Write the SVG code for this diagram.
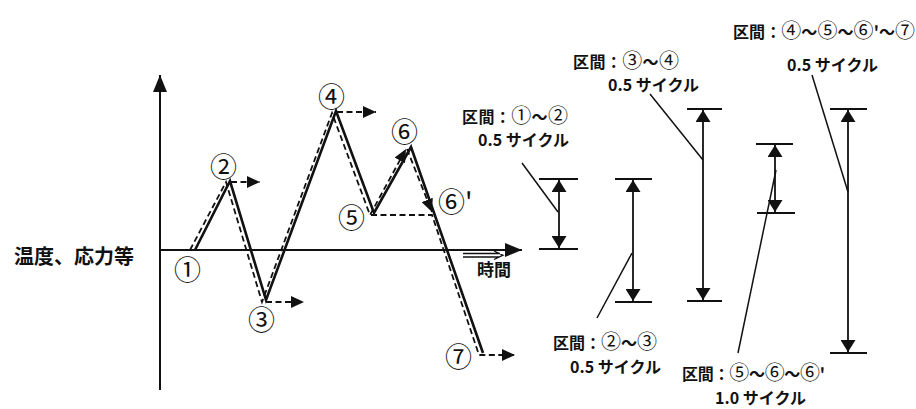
<svg xmlns="http://www.w3.org/2000/svg" width="916" height="409" viewBox="0 0 916 409">
<style>
  text { font-family: "Noto Sans CJK JP", "Noto Sans", sans-serif; fill: #111; font-weight: bold; }
  .lbl { font-size: 16px; }
  .c { font-size: 20px; font-weight: normal; }
  .num { font-size: 27px; font-weight: normal; }
  .axis { stroke: #111; stroke-width: 2; fill: none; }
  .wave { stroke: #111; stroke-width: 2.6; fill: none; stroke-linejoin: miter; }
  .dash { stroke: #111; stroke-width: 1.8; fill: none; stroke-dasharray: 6 3.5; }
  .bar { stroke: #111; stroke-width: 1.8; fill: none; }
  .tick { stroke: #111; stroke-width: 2; }
  .lead { stroke: #111; stroke-width: 1.5; fill: none; }
</style>
<defs>
  <marker id="ah" viewBox="0 0 12 15" refX="12" refY="7.5" markerWidth="12" markerHeight="15" markerUnits="userSpaceOnUse" orient="auto-start-reverse">
    <path d="M0,0 L12,7.5 L0,15 z" fill="#111"/>
  </marker>
  <marker id="da" viewBox="0 0 13 12" refX="13" refY="6" markerWidth="13" markerHeight="12" markerUnits="userSpaceOnUse" orient="auto">
    <path d="M0,0 L13,6 L0,12 z" fill="#111"/>
  </marker>
  <marker id="ax" viewBox="0 0 17 14" refX="17" refY="7" markerWidth="17" markerHeight="14" markerUnits="userSpaceOnUse" orient="auto">
    <path d="M0,0 L17,7 L0,14 z" fill="#111"/>
  </marker>
</defs>
<rect width="916" height="409" fill="#fff"/>

<g id="axes">
  <line class="axis" x1="160" y1="390" x2="160" y2="75" marker-end="url(#ax)"/>
  <line class="axis" x1="160" y1="250" x2="522" y2="250" marker-end="url(#ax)"/>
  <path d="M463,253.5 H500 M463,257 H500 M494,251 L503,255.2 L494,259.5" stroke="#111" stroke-width="1.3" fill="none"/>
  <text x="477" y="276" style="font-size:17px">時間</text>
  <text x="14" y="264" style="font-size:20px">温度、応力等</text>
</g>

<g id="connectors">
  <polyline class="wave" points="195,250 230,181 266,300 336,111 374,213 411,147 483,353"/>
  <polyline class="dash" points="190,250 226,182 262,302 332,113 370,215 406,149" marker-end="url(#da)"/>
  <polyline class="dash" points="407,149 432,212" marker-end="url(#da)"/>
  <polyline class="dash" points="371,215 432,215 479,355 515,355" marker-end="url(#da)"/>
  <line class="dash" x1="231" y1="182" x2="260" y2="182" marker-end="url(#da)"/>
  <line class="dash" x1="266" y1="302" x2="304" y2="302" marker-end="url(#da)"/>
  <line class="dash" x1="337" y1="112" x2="376" y2="112" marker-end="url(#da)"/>
</g>

<g id="points">
  <text class="num" x="174" y="280">①</text>
  <text class="num" x="210" y="177">②</text>
  <text class="num" x="248" y="330">③</text>
  <text class="num" x="318" y="107">④</text>
  <text class="num" x="338" y="228">⑤</text>
  <text class="num" x="391" y="142">⑥</text>
  <text class="num" x="438" y="212">⑥'</text>
  <text class="num" x="445" y="367">⑦</text>
</g>

<g id="range1">
  <line class="tick" x1="539" y1="179" x2="578" y2="179"/>
  <line class="tick" x1="539" y1="249" x2="578" y2="249"/>
  <line class="bar" x1="559" y1="180" x2="559" y2="248" marker-start="url(#ah)" marker-end="url(#ah)"/>
  <line class="lead" x1="522" y1="163" x2="558" y2="212"/>
  <text class="lbl" x="462" y="123" textLength="106" lengthAdjust="spacing">区間：<tspan class="c">①</tspan>～<tspan class="c">②</tspan></text>
  <text class="lbl" x="478" y="146">0.5 サイクル</text>
</g>

<g id="range2">
  <line class="tick" x1="615" y1="179" x2="652" y2="179"/>
  <line class="tick" x1="615" y1="302" x2="652" y2="302"/>
  <line class="bar" x1="633" y1="180" x2="633" y2="301" marker-start="url(#ah)" marker-end="url(#ah)"/>
  <line class="lead" x1="597" y1="318" x2="632" y2="253"/>
  <text class="lbl" x="553" y="349" textLength="104" lengthAdjust="spacing">区間：<tspan class="c">②</tspan>～<tspan class="c">③</tspan></text>
  <text class="lbl" x="570" y="373">0.5 サイクル</text>
</g>

<g id="range3">
  <line class="tick" x1="687" y1="109" x2="722" y2="109"/>
  <line class="tick" x1="687" y1="301" x2="722" y2="301"/>
  <line class="bar" x1="703" y1="110" x2="703" y2="300" marker-start="url(#ah)" marker-end="url(#ah)"/>
  <line class="lead" x1="650" y1="94" x2="703" y2="160"/>
  <text class="lbl" x="573" y="68" textLength="106" lengthAdjust="spacing">区間：<tspan class="c">③</tspan>～<tspan class="c">④</tspan></text>
  <text class="lbl" x="608" y="91">0.5 サイクル</text>
</g>

<g id="range4">
  <line class="tick" x1="756" y1="144" x2="793" y2="144"/>
  <line class="tick" x1="757" y1="213" x2="795" y2="213"/>
  <line class="bar" x1="775" y1="145" x2="775" y2="212" marker-start="url(#ah)" marker-end="url(#ah)"/>
  <line class="lead" x1="738" y1="353" x2="776" y2="170"/>
  <text class="lbl" x="682" y="380" textLength="143" lengthAdjust="spacing">区間：<tspan class="c">⑤</tspan>～<tspan class="c">⑥</tspan>～<tspan class="c">⑥</tspan>'</text>
  <text class="lbl" x="715" y="404">1.0 サイクル</text>
</g>

<g id="range5">
  <line class="tick" x1="830" y1="109" x2="867" y2="109"/>
  <line class="tick" x1="830" y1="353" x2="867" y2="353"/>
  <line class="bar" x1="848" y1="110" x2="848" y2="352" marker-start="url(#ah)" marker-end="url(#ah)"/>
  <line class="lead" x1="812" y1="75" x2="848" y2="192"/>
  <text class="lbl" x="733" y="38" textLength="182" lengthAdjust="spacing">区間：<tspan class="c">④</tspan>～<tspan class="c">⑤</tspan>～<tspan class="c">⑥</tspan>'～<tspan class="c">⑦</tspan></text>
  <text class="lbl" x="787" y="71">0.5 サイクル</text>
</g>
</svg>
